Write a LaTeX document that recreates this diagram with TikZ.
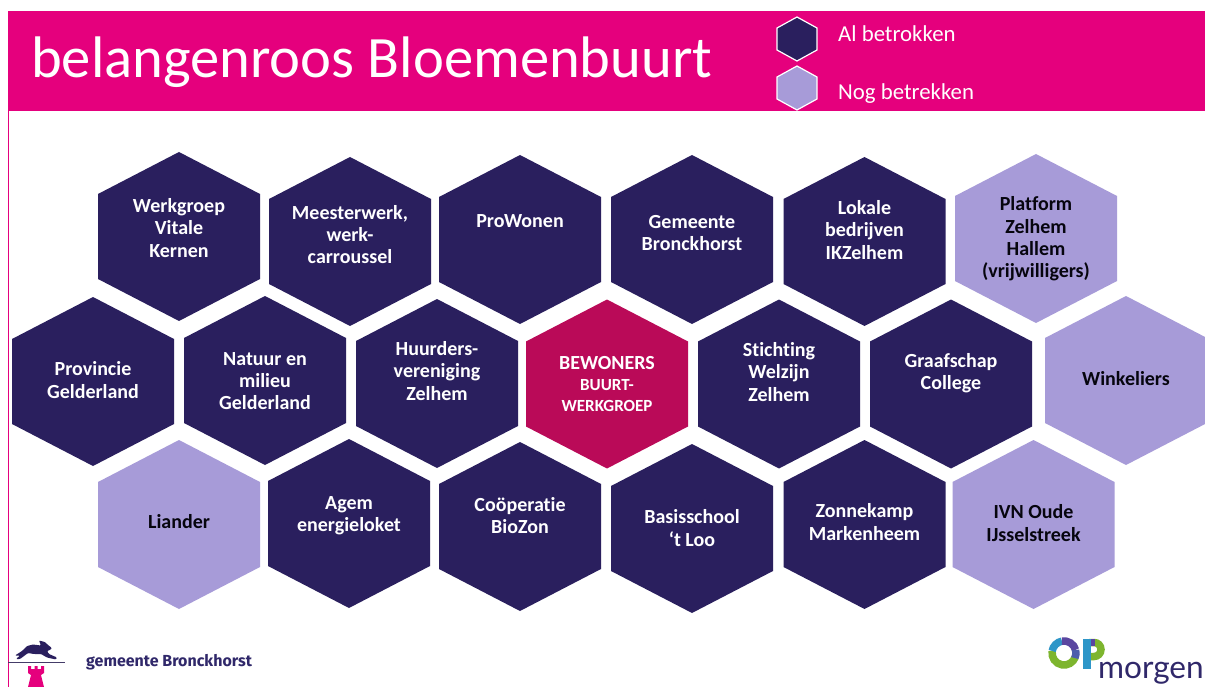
\documentclass[tikz,border=0pt]{standalone}
\usepackage{fontspec}
\setmainfont[Ligatures=NoCommon]{Carlito}
\newfontfamily\logofont{Fira Sans}
\newfontfamily\morgenfont{Lato}
\definecolor{pinkband}{HTML}{E5007D}
\definecolor{darkhex}{HTML}{2A1F5E}
\definecolor{lighthex}{HTML}{A79BD8}
\definecolor{redhex}{HTML}{BA0A58}
\definecolor{logotext}{HTML}{30286A}
\definecolor{opgreen}{HTML}{7DB52E}
\definecolor{opblue}{HTML}{2E96C8}
\definecolor{oppurple}{HTML}{5A46A0}
\tikzset{
  darkfill/.style={fill=darkhex},
  lightfill/.style={fill=lighthex},
  redfill/.style={fill=redhex},
  hexlabel/.style={align=center,font=\fontsize{20}{22.3}\selectfont\bfseries,inner sep=0pt},
  whitelabel/.style={hexlabel,text=white},
  blacklabel/.style={hexlabel,text=black!85!darkhex},
  legendlabel/.style={anchor=west,text=white,inner sep=0pt,font=\fontsize{22.8}{24}\selectfont},
  legendhex/.style={draw=white,line width=1.2pt},
  ringpart/.style={line width=7.5pt},
}
% #1 name, #2 cx, #3 cy, #4 fill style, #5 label style, #6 label y, #7 text
\newcommand{\hexa}[7]{%
  \fill[#4] (#2,#3-84.5) -- (#2+81,#3-42.5) -- (#2+81,#3+42.5) -- (#2,#3+84.5) -- (#2-81,#3+42.5) -- (#2-81,#3-42.5) -- cycle;
  \node[#5] (#1) at (#2,#6) {#7};
}
\begin{document}
\begin{tikzpicture}[x=1pt,y=-1pt]
\useasboundingbox (0,0) rectangle (1205,687);
\fill[white] (0,0) rectangle (1205,687);
% band
\fill[pinkband] (8,11) rectangle (1205,111);
\draw[pinkband,line width=1pt] (8.5,111) -- (8.5,687);
\node[anchor=west,text=white,inner sep=0pt,font=\fontsize{58.6}{62}\selectfont] (title) at (31,62) {belangenroos Bloemenbuurt};
% legend
\filldraw[fill=darkhex,legendhex] (797,17) -- (817,28) -- (817,50) -- (797,61) -- (777,50) -- (777,28) -- cycle;
\filldraw[fill=lighthex,legendhex] (797,66) -- (817,77) -- (817,99) -- (797,110) -- (777,99) -- (777,77) -- cycle;
\node[legendlabel] (legA) at (838,34) {Al betrokken};
\node[legendlabel] (legB) at (838,94) {Nog betrekken};
% row 1
\hexa{h11}{179}{236.5}{darkfill}{whitelabel}{228}{Werkgroep\\Vitale\\Kernen}
\hexa{h12}{350}{241.5}{darkfill}{whitelabel}{234.5}{Meesterwerk,\\werk-\\carroussel}
\hexa{h13}{520}{239.5}{darkfill}{whitelabel}{221}{ProWonen}
\hexa{h14}{692}{239.5}{darkfill}{whitelabel}{233}{Gemeente\\Bronckhorst}
\hexa{h15}{864.5}{241.5}{darkfill}{whitelabel}{230}{Lokale\\bedrijven\\IKZelhem}
\hexa{h16}{1036}{238.5}{lightfill}{blacklabel}{239}{Platform\\Zelhem\\Hallem\\(vrijwilligers)}
% row 2
\hexa{h21}{93}{381.5}{darkfill}{whitelabel}{380}{Provincie\\Gelderland}
\hexa{h22}{265}{380.5}{darkfill}{whitelabel}{381}{Natuur en\\milieu\\Gelderland}
\hexa{h23}{437}{383.5}{darkfill}{whitelabel}{371}{Huurders-\\vereniging\\Zelhem}
\hexa{h24}{607}{384}{redfill}{whitelabel}{384}{BEWONERS\\[-1pt]{\fontsize{17}{20}\selectfont BUURT-}\\[-1pt]{\fontsize{17}{20}\selectfont WERKGROEP}}
\hexa{h25}{779}{384}{darkfill}{whitelabel}{372}{Stichting\\Welzijn\\Zelhem}
\hexa{h26}{951}{384}{darkfill}{whitelabel}{373}{Graafschap\\College}
\hexa{h27}{1126}{380.5}{lightfill}{blacklabel}{379}{Winkeliers}
% row 3
\hexa{h31}{179}{524.5}{lightfill}{blacklabel}{522}{Liander}
\hexa{h32}{349}{523.5}{darkfill}{whitelabel}{516}{Agem\\energieloket}
\hexa{h33}{520}{526.5}{darkfill}{whitelabel}{515.5}{Coöperatie\\BioZon}
\hexa{h34}{692}{528.5}{darkfill}{whitelabel}{528}{Basisschool\\‘t Loo}
\hexa{h35}{864.5}{524.5}{darkfill}{whitelabel}{522}{Zonnekamp\\Markenheem}
\hexa{h36}{1033.5}{524.5}{lightfill}{blacklabel}{523}{IVN Oude\\IJsselstreek}
% gemeente logo
\draw[darkhex!70!gray,line width=0.6pt] (8,662.5) -- (65,662.5);
\fill[darkhex,rounded corners=1pt] (15,655.5) -- (22,651) -- (27,646) -- (33,644.5) -- (41,645.5) -- (39,640.5) -- (45,642) -- (48,645) -- (52,648) -- (50,650) -- (47,651) -- (49,654) -- (57,657.5) -- (56,659.5) -- (47,657.5) -- (41,654) -- (34,654) -- (28,653) -- (24,656) -- (20,659) -- (16,659) -- (20,655.5) -- cycle;
\fill[pinkband] (28,666) -- (31,666) -- (31,669) -- (34.5,669) -- (34.5,666) -- (37.5,666) -- (37.5,669) -- (41,669) -- (41,666) -- (44,666) -- (44,673) -- (41,675) -- (44,687) -- (28,687) -- (31,675) -- (28,673) -- cycle;
\node[anchor=west,inner sep=0pt,text=logotext,font=\logofont\fontsize{16}{18}\selectfont\bfseries] (gem) at (86,662) {gemeente Bronckhorst};
% OP morgen logo: ring (y axis points down, so angles run clockwise)
\draw[ringpart,opgreen] (1064,653) ++(190:12) arc[start angle=190,end angle=20,radius=12];
\draw[ringpart,opblue] (1064,653) ++(190:12) arc[start angle=190,end angle=260,radius=12];
\draw[ringpart,oppurple] (1064,653) ++(260:12) arc[start angle=260,end angle=345,radius=12];
\draw[ringpart,oppurple!70!opblue] (1064,653) ++(345:12) arc[start angle=345,end angle=385,radius=12];
\draw[opgreen,line width=7.5pt] (1089,642.5) -- (1094,642.5) arc[start angle=-90,end angle=90,radius=7] -- (1089,656.5);
\fill[oppurple] (1086,639) rectangle (1095,646);
\fill[opblue] (1083,639) rectangle (1090.5,669);
\node[anchor=base west,inner sep=0pt,text=logotext,font=\morgenfont\fontsize{31.6}{34}\selectfont] (morgen) at (1098,678) {morgen};
\end{tikzpicture}
\end{document}
